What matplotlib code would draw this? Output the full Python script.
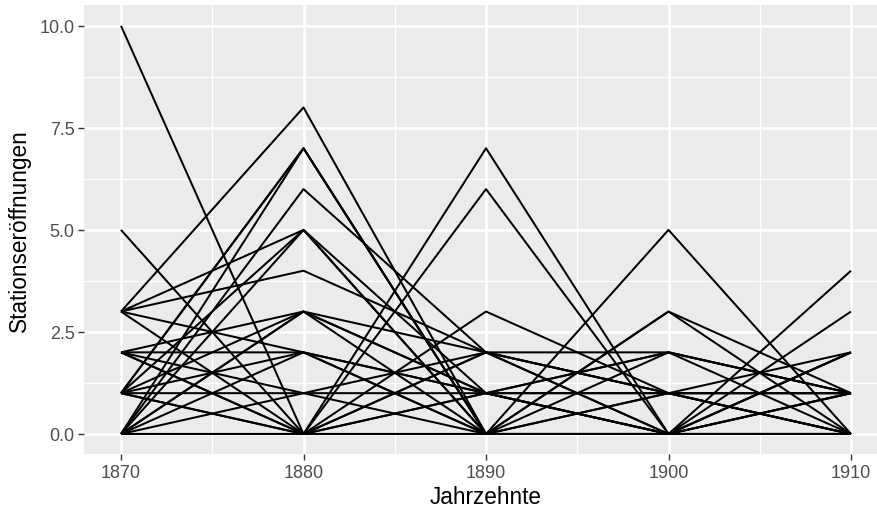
import matplotlib
matplotlib.use("Agg")
import matplotlib.pyplot as plt
from matplotlib.ticker import MultipleLocator

plt.rcParams['font.family'] = ['Liberation Sans', 'DejaVu Sans']

# decades on the x axis
decades = [1870, 1880, 1890, 1900, 1910]

# station openings per decade, one list per line
series = [
    [10, 0, 0, 0, 0],
    [5, 0, 1, 1, 1],
    [3, 8, 0, 0, 0],
    [3, 5, 0, 0, 1],
    [3, 4, 2, 2, 1],
    [3, 2, 1, 0, 0],
    [3, 0, 2, 1, 0],
    [2, 2, 0, 0, 2],
    [2, 1, 1, 1, 1],
    [2, 0, 3, 1, 0],
    [2, 3, 1, 0, 0],
    [1, 7, 0, 0, 0],
    [1, 7, 0, 1, 0],
    [1, 5, 1, 2, 1],
    [1, 3, 2, 0, 0],
    [1, 2, 0, 2, 0],
    [1, 1, 0, 0, 3],
    [1, 0, 6, 0, 0],
    [0, 7, 0, 0, 1],
    [0, 6, 2, 1, 1],
    [0, 5, 0, 0, 4],
    [0, 3, 0, 3, 0],
    [0, 2, 1, 0, 2],
    [0, 1, 2, 0, 0],
    [0, 0, 7, 0, 0],
    [0, 0, 0, 5, 0],
    [0, 0, 0, 0, 2],
    [0, 0, 1, 2, 1],
    [0, 3, 1, 0, 1],
    [0, 0, 2, 1, 0],
    [1, 0, 0, 3, 1],
    [0, 0, 0, 0, 0],
    [2, 0, 0, 1, 2],
]

fig = plt.figure(figsize=(8.78, 5.10), dpi=100)
ax = fig.add_axes([84.5 / 878, (510 - 455.4) / 510, 803 / 878, 449 / 510])
ax.set_facecolor('#EBEBEB')

for vals in series:
    ax.plot(decades, vals, color='black', lw=1.45, solid_capstyle='butt')

ax.set_xlim(1868, 1912)
ax.set_ylim(-0.5, 10.5)
ax.set_xticks(decades)
ax.xaxis.set_minor_locator(MultipleLocator(5))
ax.set_yticks([0, 2.5, 5, 7.5, 10])
ax.set_yticklabels(['0.0', '2.5', '5.0', '7.5', '10.0'])
ax.yaxis.set_minor_locator(MultipleLocator(1.25))

ax.grid(which='major', color='white', lw=1.9)
ax.grid(which='minor', color='white', lw=0.95)
ax.set_axisbelow(True)
for s in ax.spines.values():
    s.set_visible(False)

ax.tick_params(which='major', length=4, width=1.0, color='#333333',
               labelcolor='#4D4D4D', labelsize=13, pad=3)
ax.tick_params(which='minor', length=0)

ax.set_xlabel('Jahrzehnte', fontsize=16.3, color='black', labelpad=3)
ax.set_ylabel('Stationseröffnungen', fontsize=16.3, color='black', labelpad=6)

fig.savefig('out.png', dpi=100)
